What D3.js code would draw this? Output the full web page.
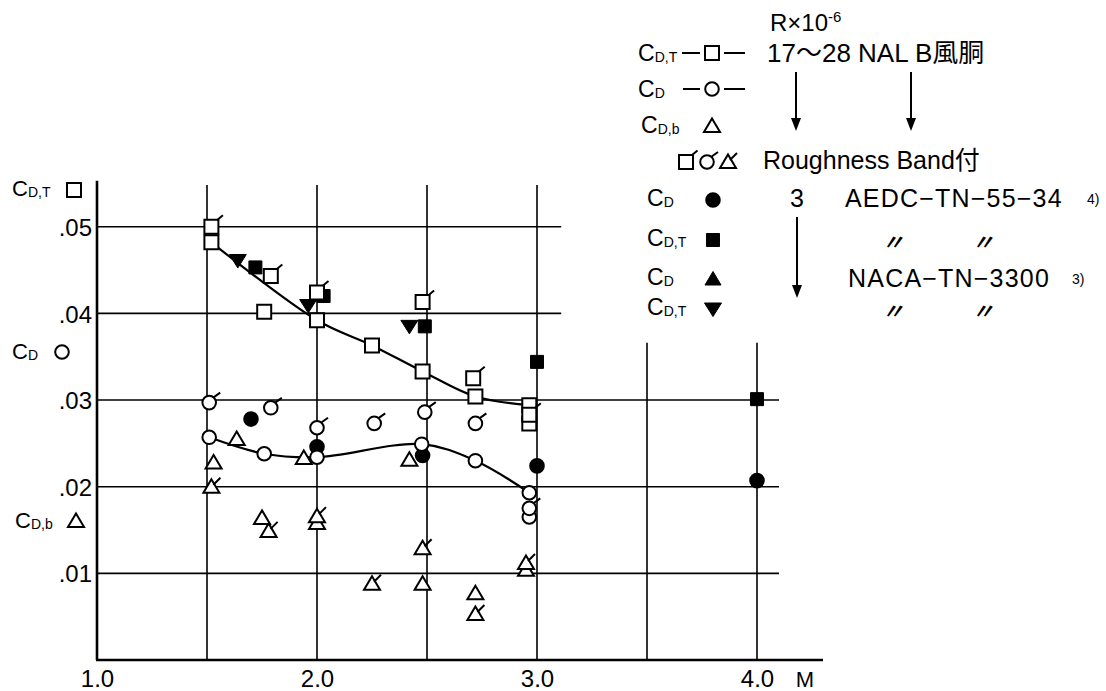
<!DOCTYPE html>
<html>
<head>
<meta charset="utf-8">
<script src="https://cdn.jsdelivr.net/npm/d3@7"></script>
<style>
  body { margin: 0; background: #fff; }
  text { font-family: "Liberation Sans", Arial, "Noto Sans CJK JP", sans-serif; fill: #000; }
</style>
</head>
<body>
<script>
// ---- data (M = Mach number) ----
// NAL B wind tunnel, C_D,T (open squares, faired curve)
var cdtM = [1.52, 2.0, 2.25, 2.48, 2.72, 2.965];
var cdtV = [0.0482, 0.0392, 0.0363, 0.0333, 0.0304, 0.0294];
var cdtOtherM = [1.76, 2.965];
var cdtOtherV = [0.0402, 0.0273];
// with roughness band
var cdtRbM = [1.52, 1.79, 2.0, 2.48, 2.71, 2.965];
var cdtRbV = [0.0500, 0.0443, 0.0424, 0.0413, 0.0325, 0.0283];

// NAL B, C_D (open circles, faired curve)
var cdM = [1.51, 1.76, 2.0, 2.476, 2.72, 2.965];
var cdV = [0.0257, 0.0238, 0.0234, 0.0249, 0.0230, 0.0193];
var cdOtherM = [2.965];
var cdOtherV = [0.0165];
var cdRbM = [1.51, 1.79, 2.0, 2.26, 2.49, 2.72, 2.965];
var cdRbV = [0.0297, 0.0291, 0.0268, 0.0273, 0.0286, 0.0273, 0.0175];

// NAL B, C_D,b (open triangles)
var cdbM = [1.53, 1.75, 2.0, 2.48, 2.72, 2.95];
var cdbV = [0.0228, 0.0164, 0.0158, 0.0088, 0.0077, 0.0104];
var cdbRbM = [1.52, 1.78, 2.0, 2.25, 2.48, 2.72, 2.95];
var cdbRbV = [0.0200, 0.0149, 0.0166, 0.0088, 0.0129, 0.0053, 0.0112];

// AEDC-TN-55-34
var aedcCdM = [1.70, 2.0, 2.48, 3.0, 4.0];
var aedcCdV = [0.0278, 0.0246, 0.0236, 0.0224, 0.0207];
var aedcCdtM = [1.72, 2.03, 2.49, 3.0, 4.0];
var aedcCdtV = [0.0453, 0.0420, 0.0385, 0.0344, 0.0301];

// NACA-TN-3300
var nacaCdM = [1.635, 1.94, 2.42];
var nacaCdV = [0.0255, 0.0233, 0.0231];
var nacaCdtM = [1.64, 1.96, 2.42];
var nacaCdtV = [0.0461, 0.0409, 0.0385];

// ticks
var xTicks = [1, 2, 3, 4];
var xTickLabels = ["1.0", "2.0", "3.0", "4.0"];
var yTicks = [0.01, 0.02, 0.03, 0.04, 0.05];
var yTickLabels = [".01", ".02", ".03", ".04", ".05"];

function pts(ms, vs) {
    var out = [];
    for (var i = 0; i < ms.length; i++) out.push([ms[i], vs[i]]);
    return out;
}

var svg = d3.select("body").append("svg")
    .attr("width", 1106)
    .attr("height", 691);

var xScale = d3.scaleLinear().domain([1, 4]).range([97, 757]);
var yScale = d3.scaleLinear().domain([0, 0.05]).range([660, 226.7]);

// ---- grid ----
var grid = svg.append("g").attr("stroke", "#000").attr("stroke-width", 1.6);
// horizontal lines: upper two are shorter
grid.selectAll(".hg").data(yTicks).enter().append("line")
    .attr("x1", xScale(1))
    .attr("x2", function(d) { return d >= 0.04 ? xScale(3.11) : xScale(4.1); })
    .attr("y1", function(d) { return yScale(d); })
    .attr("y2", function(d) { return yScale(d); });
// vertical lines
var vLines = [1.5, 2.0, 2.5, 3.0, 3.5, 4.0];
grid.selectAll(".vg").data(vLines).enter().append("line")
    .attr("x1", function(d) { return xScale(d); })
    .attr("x2", function(d) { return xScale(d); })
    .attr("y1", function(d) { return d > 3 ? yScale(0.0366) : yScale(0.0548); })
    .attr("y2", yScale(0));

// axes lines (heavier)
svg.append("line").attr("x1", xScale(1)).attr("x2", xScale(1))
    .attr("y1", yScale(0.0553)).attr("y2", yScale(0))
    .attr("stroke", "#000").attr("stroke-width", 2.6);
svg.append("line").attr("x1", xScale(1) - 1).attr("x2", xScale(4.3))
    .attr("y1", yScale(0)).attr("y2", yScale(0))
    .attr("stroke", "#000").attr("stroke-width", 2.6);

// tick labels via d3 axes
var xAxis = d3.axisBottom(xScale).tickValues(xTicks).tickSize(0)
    .tickFormat(function(d, i) { return xTickLabels[i]; });
var gx = svg.append("g").attr("transform", "translate(0," + yScale(0) + ")").call(xAxis);
gx.select(".domain").remove();
gx.selectAll("text").attr("font-size", 24).attr("dy", "1.0em")
    .style("font-family", "'Liberation Sans', Arial, sans-serif");

var yAxis = d3.axisLeft(yScale).tickValues(yTicks).tickSize(0)
    .tickFormat(function(d, i) { return yTickLabels[i]; });
var gy = svg.append("g").attr("transform", "translate(" + (xScale(1) - 2) + ",0)").call(yAxis);
gy.select(".domain").remove();
gy.selectAll("text").attr("font-size", 24).attr("dy", "0.36em")
    .style("font-family", "'Liberation Sans', Arial, sans-serif");

svg.append("text").attr("x", 805).attr("y", 687).attr("text-anchor", "middle")
    .attr("font-size", 22).text("M");

// ---- marker shapes ----
var shapes = {
    sq: "M-7,-7h14v14h-14Z",
    fsq: "M-6.5,-6.5h13v13h-13Z",
    tri: "M0,-7.5L8,6L-8,6Z",
    dtri: "M-8.5,-6L8.5,-6L0,7.5Z"
};
var flags = {
    sq: "M5.5,-6.5L11.5,-11.5",
    ci: "M4,-5L11,-10",
    tri: "M2,-2L9,-9"
};

function marker(g, shape, filled) {
    if (shape === "ci") {
        g.append("circle").attr("r", 6.8)
            .attr("fill", filled ? "#000" : "#fff")
            .attr("stroke", "#000").attr("stroke-width", 2);
    } else {
        g.append("path").attr("d", shapes[shape])
            .attr("fill", filled ? "#000" : "#fff")
            .attr("stroke", "#000").attr("stroke-width", filled ? 1 : 2)
            .attr("stroke-linejoin", "miter");
    }
}

function drawPoints(data, shape, filled, flag) {
    var g = svg.append("g");
    g.selectAll("g").data(data).enter().append("g")
        .attr("transform", function(d) { return "translate(" + xScale(d[0]) + "," + yScale(d[1]) + ")"; })
        .each(function() {
            var m = d3.select(this);
            marker(m, shape, filled);
            if (flag) {
                m.append("path").attr("d", flags[shape])
                    .attr("stroke", "#000").attr("stroke-width", 2).attr("fill", "none");
            }
        });
}

// ---- faired curves ----
var line = d3.line()
    .x(function(d) { return xScale(d[0]); })
    .y(function(d) { return yScale(d[1]); })
    .curve(d3.curveCatmullRom.alpha(0.5));

svg.append("path").datum(pts(cdtM, cdtV)).attr("d", line)
    .attr("fill", "none").attr("stroke", "#000").attr("stroke-width", 2.2);
svg.append("path").datum(pts(cdM, cdV)).attr("d", line)
    .attr("fill", "none").attr("stroke", "#000").attr("stroke-width", 2.2);

// ---- points ----
drawPoints(pts(cdbM, cdbV), "tri", false, false);
drawPoints(pts(cdbRbM, cdbRbV), "tri", false, true);
drawPoints(pts(nacaCdM, nacaCdV), "tri", false, false);
drawPoints(pts(aedcCdM, aedcCdV), "ci", true, false);
drawPoints(pts(cdM, cdV), "ci", false, false);
drawPoints(pts(cdOtherM, cdOtherV), "ci", false, false);
drawPoints(pts(cdRbM, cdRbV), "ci", false, true);
drawPoints(pts(nacaCdtM, nacaCdtV), "dtri", true, false);
drawPoints(pts(aedcCdtM, aedcCdtV), "fsq", true, false);
drawPoints(pts(cdtM, cdtV), "sq", false, false);
drawPoints(pts(cdtOtherM, cdtOtherV), "sq", false, false);
drawPoints(pts(cdtRbM, cdtRbV), "sq", false, true);

// ---- text helpers ----
function cSub(x, y, sub, size) {
    var t = svg.append("text").attr("x", x).attr("y", y).attr("font-size", size);
    t.append("tspan").text("C");
    t.append("tspan").attr("font-size", Math.round(size * 0.62)).attr("dy", 1).text(sub);
    return t;
}
function legendMark(x, y, shape, filled, flag) {
    var g = svg.append("g").attr("transform", "translate(" + x + "," + y + ")");
    marker(g, shape, filled);
    if (flag) g.append("path").attr("d", flags[shape]).attr("stroke", "#000")
        .attr("stroke-width", 2).attr("fill", "none");
}
function ditto(x, y) {
    svg.append("text").attr("x", x).attr("y", y).attr("font-size", 22)
        .attr("font-weight", "bold").attr("font-style", "italic")
        .attr("text-anchor", "middle").text("\u3003");
}

// y axis labels
cSub(12, 196, "D,T", 22);
legendMark(74, 190, "sq", false, false);
cSub(12, 359, "D", 22);
legendMark(62, 352, "ci", false, false);
cSub(15, 528, "D,b", 22);
legendMark(76, 521, "tri", false, false);

// ---- legend ----
var r = svg.append("text").attr("x", 770).attr("y", 31).attr("font-size", 24);
r.append("tspan").text("R\u00d710");
r.append("tspan").attr("font-size", 15).attr("dy", -9).text("-6");

cSub(638, 61, "D,T", 23);
svg.append("line").attr("x1", 682).attr("x2", 700).attr("y1", 53).attr("y2", 53).attr("stroke", "#000").attr("stroke-width", 2);
legendMark(712, 53, "sq", false, false);
svg.append("line").attr("x1", 724).attr("x2", 745).attr("y1", 53).attr("y2", 53).attr("stroke", "#000").attr("stroke-width", 2);
svg.append("text").attr("x", 767).attr("y", 62).attr("font-size", 26).text("17\uff5e28 NAL B\u98a8\u80f4");

cSub(638, 97, "D", 23);
svg.append("line").attr("x1", 683).attr("x2", 700).attr("y1", 89).attr("y2", 89).attr("stroke", "#000").attr("stroke-width", 2);
legendMark(712, 89, "ci", false, false);
svg.append("line").attr("x1", 724).attr("x2", 745).attr("y1", 89).attr("y2", 89).attr("stroke", "#000").attr("stroke-width", 2);

cSub(641, 133, "D,b", 23);
legendMark(712, 126, "tri", false, false);

legendMark(686, 162, "sq", false, true);
legendMark(707, 162, "ci", false, true);
legendMark(728, 162, "tri", false, true);
svg.append("text").attr("x", 763).attr("y", 169).attr("font-size", 25).text("Roughness Band\u4ed8");

function arrow(x, y1, y2) {
    svg.append("line").attr("x1", x).attr("x2", x).attr("y1", y1).attr("y2", y2 - 10)
        .attr("stroke", "#000").attr("stroke-width", 2);
    svg.append("path").attr("d", "M" + (x - 5) + "," + (y2 - 13) + "L" + (x + 5) + "," + (y2 - 13) + "L" + x + "," + y2 + "Z")
        .attr("fill", "#000");
}
arrow(796, 72, 131);
arrow(911, 72, 131);
arrow(797, 217, 298);

cSub(647, 206, "D", 23);
legendMark(713, 200, "ci", true, false);
svg.append("text").attr("x", 797).attr("y", 207).attr("font-size", 25).attr("text-anchor", "middle").text("3");
svg.append("text").attr("x", 845).attr("y", 207).attr("font-size", 25).attr("letter-spacing", 1.2).text("AEDC\u2212TN\u221255\u221234");
svg.append("text").attr("x", 1087).attr("y", 204).attr("font-size", 14).text("4)");

cSub(647, 246, "D,T", 23);
legendMark(713, 240, "fsq", true, false);
ditto(893, 250);
ditto(983, 250);

cSub(647, 285, "D", 23);
legendMark(713, 279, "tri", true, false);
svg.append("text").attr("x", 848).attr("y", 287).attr("font-size", 25).attr("letter-spacing", 1.2).text("NACA\u2212TN\u22123300");
svg.append("text").attr("x", 1072).attr("y", 284).attr("font-size", 14).text("3)");

cSub(647, 315, "D,T", 23);
legendMark(713, 309, "dtri", true, false);
ditto(893, 319);
ditto(983, 319);
</script>
</body>
</html>
